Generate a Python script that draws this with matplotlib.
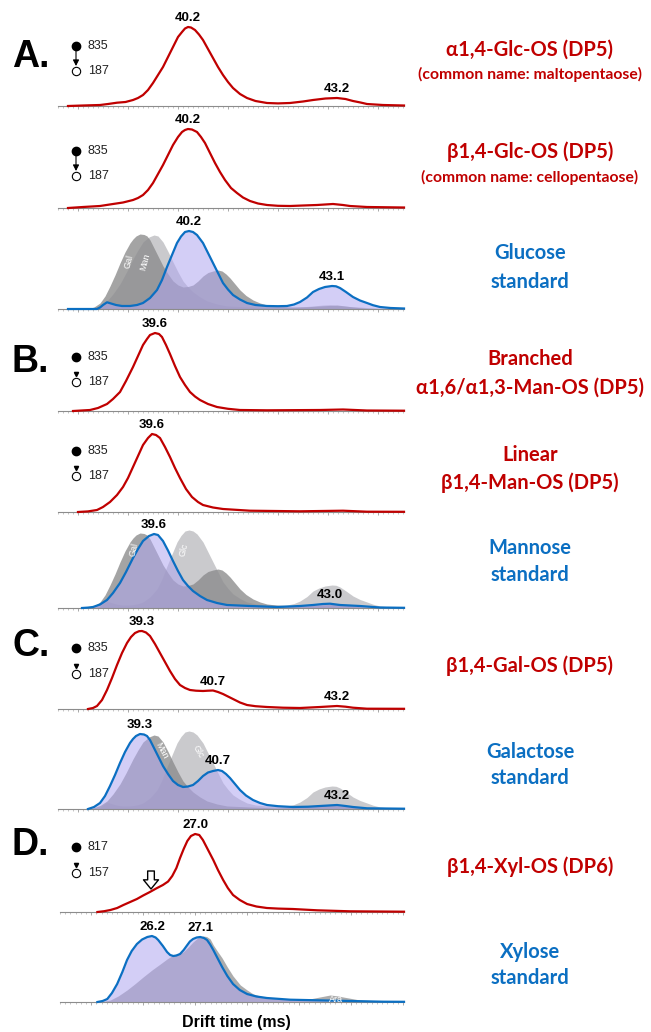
import matplotlib
matplotlib.use('Agg')
import matplotlib.pyplot as plt
from matplotlib.ticker import MultipleLocator
import numpy as np

# ---------------- data: drift time (ms) / relative intensity ----------------
# A. glucose oligosaccharides
glc_a_t = [37.80, 38.10, 38.44, 38.60, 38.78, 38.95, 39.10, 39.20, 39.30, 39.40, 39.50,
           39.60, 39.70, 39.80, 39.90, 40.00, 40.08, 40.14, 40.20, 40.26, 40.34, 40.42,
           40.50, 40.60, 40.70, 40.80, 40.90, 41.00, 41.10, 41.24, 41.38, 41.55, 41.78,
           42.00, 42.24, 42.50, 42.70, 42.95, 43.18, 43.35, 43.50, 43.65, 43.78, 44.10, 44.52]
glc_a_i = [0, 0.5, 1, 2, 3.3, 4, 6, 8, 11, 16, 23, 31, 39, 49, 59, 69, 74, 77.5, 79, 78.5,
           76, 71.5, 66, 57, 48, 39, 31, 24, 18, 12, 8, 5, 3, 2.6, 3, 4.5, 6, 7.5, 8, 7, 5,
           3.5, 2, 1, 0.5]

glc_b_t = [37.80, 38.10, 38.44, 38.70, 38.90, 39.10, 39.20, 39.30, 39.40, 39.50, 39.60,
           39.70, 39.80, 39.90, 40.00, 40.08, 40.14, 40.20, 40.28, 40.38, 40.46, 40.54,
           40.64, 40.74, 40.84, 40.94, 41.06, 41.18, 41.30, 41.44, 41.60, 41.78, 42.00,
           42.24, 42.50, 42.78, 43.10, 43.30, 43.44, 43.78, 44.52]
glc_b_i = [0, 1, 2, 4, 5.5, 8, 10, 13, 18, 25, 34, 43, 53, 63, 71, 76, 78, 79, 78.5, 76, 71,
           65, 55, 45, 36, 28, 20, 15, 10.5, 7, 4.5, 3, 2.2, 2, 2.5, 3, 4, 3, 2, 1, 0.5]

# monosaccharide standards
glc_std_t = [37.80, 38.38, 38.44, 38.50, 38.58, 38.66, 38.76, 38.88, 39.04, 39.18, 39.30,
             39.44, 39.58, 39.68, 39.78, 39.88, 39.98, 40.06, 40.14, 40.22, 40.30, 40.38,
             40.50, 40.60, 40.70, 40.80, 40.90, 41.00, 41.10, 41.24, 41.38, 41.55, 41.78,
             42.00, 42.18, 42.32, 42.44, 42.58, 42.70, 42.82, 42.94, 43.08, 43.16, 43.24,
             43.36, 43.50, 43.64, 43.78, 43.90, 44.04, 44.25, 44.52]
glc_std_i = [0, 0, 1.5, 4, 6.7, 5.5, 4, 3, 3, 4, 6, 11, 19, 29, 42, 54, 66, 72.5, 77, 78, 77,
             74, 66, 56, 46, 36, 26, 19.5, 14, 9.5, 6, 4, 3, 2.8, 3, 4.5, 7, 11.5, 17, 20,
             22, 23, 22.7, 21, 17, 12, 8.5, 6, 3.8, 2, 1, 0.5]

man_std_t = [38.08, 38.20, 38.30, 38.44, 38.58, 38.70, 38.84, 38.96, 39.10, 39.20, 39.30,
             39.42, 39.52, 39.60, 39.70, 39.80, 39.90, 40.00, 40.10, 40.20, 40.30, 40.44,
             40.58, 40.78, 40.98, 41.44, 41.98, 42.44, 42.70, 42.90, 43.04, 43.24, 43.64,
             44.04, 44.52]
man_std_i = [0, 0.4, 1, 3.5, 8, 15, 25, 36, 50, 59, 67, 72, 74, 73, 67, 57.5, 47, 37, 28, 22,
             17, 12, 8, 5, 3, 2, 1, 2, 3, 4, 4.3, 3, 2, 0.5, 0.2]

gal_std_t = [38.20, 38.32, 38.44, 38.54, 38.64, 38.74, 38.84, 38.94, 39.04, 39.10, 39.16,
             39.24, 39.32, 39.38, 39.44, 39.50, 39.60, 39.70, 39.80, 39.90, 40.00, 40.10,
             40.20, 40.30, 40.40, 40.50, 40.60, 40.70, 40.80, 40.88, 40.96, 41.04, 41.14,
             41.24, 41.36, 41.50, 41.64, 41.78, 42.00, 42.30, 42.60, 42.84, 43.18, 43.35,
             43.50, 43.78, 44.52]
gal_std_i = [0, 2, 6, 13, 23, 34, 46, 57, 66, 70, 73, 75, 74.5, 73, 69, 63, 53, 43, 35, 28,
             24, 22, 22.5, 24, 28, 33, 36.5, 38, 39, 38, 35, 31, 25, 19, 13.5, 9, 6, 4, 2.8,
             2, 2.3, 3, 4, 3, 2, 0.7, 0.3]

# B. mannose oligosaccharides
man_br_t = [37.90, 38.24, 38.40, 38.58, 38.70, 38.84, 38.96, 39.10, 39.20, 39.30, 39.38,
            39.44, 39.54, 39.62, 39.68, 39.76, 39.84, 39.94, 40.04, 40.14, 40.24, 40.34,
            40.44, 40.60, 40.78, 41.00, 41.24, 41.78, 42.84, 43.30, 43.78, 44.52]
man_br_i = [0, 1, 3, 7, 12, 19, 30, 44, 55, 66, 72, 76, 78, 77, 74, 66, 57, 45, 34, 26, 19,
            14.5, 11, 7, 4, 2.2, 1, 0.7, 1, 1.5, 0.5, 0.3]

man_lin_t = [38.00, 38.20, 38.38, 38.50, 38.64, 38.78, 38.90, 39.00, 39.10, 39.20, 39.30,
             39.40, 39.48, 39.56, 39.64, 39.74, 39.84, 39.94, 40.04, 40.16, 40.28, 40.40,
             40.50, 40.70, 40.90, 41.44, 42.44, 43.30, 43.78, 44.52]
man_lin_i = [0, 0.6, 2, 5, 10, 17, 25, 34, 45, 56, 67, 74, 78, 77, 74, 65, 55, 44, 34, 23, 15,
             10, 7, 4.5, 3, 1.3, 0.7, 1.3, 0.3, 0.2]

# C. galactose oligosaccharide
gal_os_t = [38.20, 38.30, 38.38, 38.48, 38.58, 38.68, 38.78, 38.88, 38.98, 39.06, 39.14,
            39.22, 39.28, 39.36, 39.44, 39.54, 39.64, 39.74, 39.84, 39.94, 40.04, 40.14,
            40.24, 40.36, 40.50, 40.60, 40.70, 40.80, 40.90, 41.00, 41.10, 41.24, 41.38,
            41.55, 41.78, 42.10, 42.44, 42.84, 43.18, 43.35, 43.50, 43.78, 44.52]
gal_os_i = [0, 1, 3, 9, 19, 31, 44, 56, 66, 72, 76, 77.8, 78, 76.5, 73, 65, 56, 47, 38, 30,
            24, 21, 19, 18.3, 18, 18.3, 18.5, 17, 15, 12.5, 10, 6.5, 4, 2.8, 2, 1.3, 1, 2, 3,
            2.3, 1.3, 0.3, 0.2]

# D. xylose oligosaccharide and standards
xyl_os_t = [25.12, 25.25, 25.37, 25.50, 25.62, 25.75, 25.88, 26.00, 26.13, 26.25, 26.38,
            26.48, 26.56, 26.64, 26.71, 26.78, 26.85, 26.92, 27.00, 27.08, 27.15, 27.25,
            27.35, 27.44, 27.54, 27.63, 27.73, 27.86, 28.00, 28.18, 28.38, 28.60, 28.88,
            29.35, 29.98, 31.02]
xyl_os_i = [0, 0.8, 2, 4, 7, 10, 13, 16.5, 20, 23.5, 27, 30.5, 36, 44, 54, 63, 71, 76, 78,
            77, 72, 62, 52, 42, 32, 24, 17, 12, 8, 5.5, 4, 3.4, 3, 1.7, 0.7, 0.3]

xyl_std_t = [25.12, 25.22, 25.31, 25.40, 25.50, 25.60, 25.69, 25.78, 25.88, 25.98, 26.08,
             26.17, 26.24, 26.29, 26.38, 26.46, 26.52, 26.58, 26.64, 26.71, 26.78, 26.85,
             26.90, 26.96, 27.03, 27.10, 27.17, 27.23, 27.29, 27.35, 27.44, 27.52, 27.62,
             27.73, 27.86, 28.00, 28.18, 28.38, 28.83, 29.35, 29.98, 30.62, 31.02]
xyl_std_i = [0, 1, 3, 9, 18, 30, 42, 51, 58, 62.5, 65, 66, 64.5, 62, 56, 50, 47, 46, 46.5,
             48, 52, 57, 60.5, 63, 64.5, 65, 64, 62, 57.5, 52, 43, 35, 26, 18, 12, 8, 5.5, 4,
             2.3, 1.7, 1, 0.3, 0.2]

ara_std_t = [25.17, 25.37, 25.52, 25.69, 25.85, 26.00, 26.17, 26.33, 26.46, 26.58, 26.68,
             26.77, 26.87, 26.96, 27.05, 27.15, 27.22, 27.29, 27.35, 27.44, 27.52, 27.62,
             27.73, 27.87, 28.00, 28.12, 28.25, 28.50, 28.75, 29.02, 29.25, 29.40, 29.60,
             29.75, 29.85, 30.17, 30.62, 31.02]
ara_std_i = [0, 2, 6, 12, 18.5, 25, 32, 38, 43, 47, 48.5, 50, 55, 60, 64, 66, 65.5, 63, 57,
             50, 44, 35, 26, 17, 12, 8, 6, 3.5, 2.5, 2, 3.5, 5, 7, 6, 5, 2, 1, 0.3]

# ---------------- figure ----------------
W, H = 651, 1032
fig = plt.figure(figsize=(6.51, 10.32), dpi=100)

RED = '#c00000'
BLUE = '#0b6fc2'
LAV = '#b0a6f0'
DARK = '#5a5a5a'
LIGHT = '#8a8a90'
ARIAL = 'Liberation Sans'
TITLE = ['Lato', 'DejaVu Sans']

xlim_abc = (37.60, 44.52)
xlim_d = (24.40, 31.02)


def panel(base_y, xlim, x0=58):
    ax = fig.add_axes([x0 / W, (H - base_y) / H, (404 - x0) / W, 90 / H])
    ax.set_xlim(*xlim)
    ax.set_ylim(0, 90)
    for s in ['top', 'right', 'left']:
        ax.spines[s].set_visible(False)
    ax.spines['bottom'].set_color('#8c8c8c')
    ax.spines['bottom'].set_linewidth(0.8)
    ax.set_yticks([])
    ax.xaxis.set_major_locator(MultipleLocator(1))
    ax.xaxis.set_minor_locator(MultipleLocator(0.1))
    ax.tick_params(axis='x', which='major', length=2.5, width=0.6, color='#9a9a9a',
                   labelbottom=False)
    ax.tick_params(axis='x', which='minor', length=1.3, width=0.4, color='#9a9a9a')
    ax.patch.set_alpha(0)
    return ax


def peak_label(ax, t, y, value, win=0.35):
    t = np.asarray(t)
    y = np.asarray(y)
    i = np.argmax(np.where(np.abs(t - value) <= win, y, -1))
    ax.annotate(f'{value:.1f}', (t[i], y[i]), xytext=(0, 2), textcoords='offset points',
                ha='center', va='bottom', fontsize=9.5, fontweight='bold', family=ARIAL,
                annotation_clip=False, zorder=10)


def red_trace(ax, t, y, labels):
    ax.plot(t, y, color=RED, lw=1.6, zorder=5, clip_on=False, solid_joinstyle='round')
    for v in labels:
        peak_label(ax, t, y, v)


def std_trace(ax, t, y, grays, labels):
    for (gt, gy), col, a in grays:
        ax.fill_between(gt, gy, color=col, alpha=a, lw=0, zorder=1)
    ax.fill_between(t, y, color=LAV, alpha=0.55, lw=0, zorder=2)
    ax.plot(t, y, color=BLUE, lw=1.6, zorder=5, clip_on=False, solid_joinstyle='round')
    for v in labels:
        peak_label(ax, t, y, v)


# A
ax = panel(106, xlim_abc)
red_trace(ax, glc_a_t, glc_a_i, [40.2, 43.2])
ax = panel(208, xlim_abc)
red_trace(ax, glc_b_t, glc_b_i, [40.2])
ax = panel(309, xlim_abc)
std_trace(ax, glc_std_t, glc_std_i,
          [((gal_std_t, gal_std_i), DARK, 0.55), ((man_std_t, man_std_i), LIGHT, 0.45)],
          [40.2, 43.1])
# B
ax = panel(411, xlim_abc)
red_trace(ax, man_br_t, man_br_i, [39.6])
ax = panel(512, xlim_abc)
red_trace(ax, man_lin_t, man_lin_i, [39.6])
ax = panel(608, xlim_abc)
std_trace(ax, man_std_t, man_std_i,
          [((gal_std_t, gal_std_i), DARK, 0.55), ((glc_std_t, glc_std_i), LIGHT, 0.45)],
          [39.6, 43.0])
# C
ax = panel(709, xlim_abc)
red_trace(ax, gal_os_t, gal_os_i, [39.3, 40.7, 43.2])
ax = panel(809, xlim_abc)
std_trace(ax, gal_std_t, gal_std_i,
          [((man_std_t, man_std_i), DARK, 0.55), ((glc_std_t, glc_std_i), LIGHT, 0.45)],
          [39.3, 40.7, 43.2])
# D
ax = panel(912, xlim_d, x0=60)
red_trace(ax, xyl_os_t, xyl_os_i, [27.0])
ax = panel(1002, xlim_d, x0=60)
std_trace(ax, xyl_std_t, xyl_std_i, [((ara_std_t, ara_std_i), DARK, 0.5)], [26.2, 27.1])

# ---------------- overlay in pixel coordinates ----------------
ov = fig.add_axes([0, 0, 1, 1])
ov.set_xlim(0, W)
ov.set_ylim(H, 0)
ov.axis('off')

for letter, y in [('A.', 57), ('B.', 362), ('C.', 646), ('D.', 845)]:
    ov.text(12, y, letter, fontsize=27, fontweight='bold', family=ARIAL, va='center',
            ha='left')

# precursor / fragment ion legend
ions = [(46, 71, '835', '187', True), (151, 176, '835', '187', True),
        (357, 382, '835', '187', False), (451, 476, '835', '187', False),
        (648, 674, '835', '187', False), (847, 873, '817', '157', False)]
for y1, y2, m1, m2, arrow in ions:
    ov.plot(76, y1, 'o', ms=6, color='black')
    ov.plot(76, y2, 'o', ms=6, mfc='white', mec='black', mew=0.8)
    if arrow:
        ov.annotate('', xy=(76, y2 - 5), xytext=(76, y1 + 3),
                    arrowprops=dict(arrowstyle='-|>,head_length=0.35,head_width=0.18',
                                    color='black', lw=0.8, shrinkA=0, shrinkB=0))
    else:
        ov.plot(76, y2 - 8, 'v', ms=3, color='black')
    ov.text(88, y1, m1, fontsize=9, family=ARIAL, va='center', color='#222222')
    ov.text(88, y2, m2, fontsize=9, family=ARIAL, va='center', color='#222222')

# hollow arrow on the xylose oligosaccharide shoulder
ov.annotate('', xy=(151, 889), xytext=(151, 871),
            arrowprops=dict(arrowstyle='simple,head_length=0.55,head_width=0.9,tail_width=0.4',
                            fc='white', ec='black', lw=1, mutation_scale=12,
                            shrinkA=0, shrinkB=0))

# names of the overlaid standards
for txt, x, y, rot in [('Gal', 129, 262, 75), ('Man', 145, 262, 75),
                       ('Gal', 134, 550, 75), ('Glc', 184, 550, 75),
                       ('Man', 162, 751, -62), ('Glc', 198, 752, -60),
                       ('Ara', 336, 999, 0)]:
    ov.text(x, y, txt, color='white', fontsize=6.5, family=ARIAL, rotation=rot,
            ha='center', va='center', rotation_mode='anchor')

# sample names on the right
titles = [
    ('α1,4-Glc-OS (DP5)', 50, RED, 14.5), ('(common name: maltopentaose)', 74, RED, 11.3),
    ('β1,4-Glc-OS (DP5)', 152, RED, 14.5), ('(common name: cellopentaose)', 177, RED, 11.3),
    ('Glucose', 253, BLUE, 14.5), ('standard', 282, BLUE, 14.5),
    ('Branched', 359, RED, 14.5), ('α1,6/α1,3-Man-OS (DP5)', 388, RED, 14.5),
    ('Linear', 455, RED, 14.5), ('β1,4-Man-OS (DP5)', 483, RED, 14.5),
    ('Mannose', 548, BLUE, 14.5), ('standard', 575, BLUE, 14.5),
    ('β1,4-Gal-OS (DP5)', 666, RED, 14.5),
    ('Galactose', 752, BLUE, 14.5), ('standard', 778, BLUE, 14.5),
    ('β1,4-Xyl-OS (DP6)', 867, RED, 14.5),
    ('Xylose', 952, BLUE, 14.5), ('standard', 978, BLUE, 14.5),
]
for txt, y, col, fs in titles:
    ov.text(530, y, txt, color=col, fontsize=fs, fontweight='bold', family=TITLE,
            ha='center', va='center')

ov.text(236, 1022, 'Drift time (ms)', fontsize=11.5, fontweight='bold', family=ARIAL,
        ha='center', va='center')

fig.savefig('out.png', dpi=100)
plt.close(fig)
